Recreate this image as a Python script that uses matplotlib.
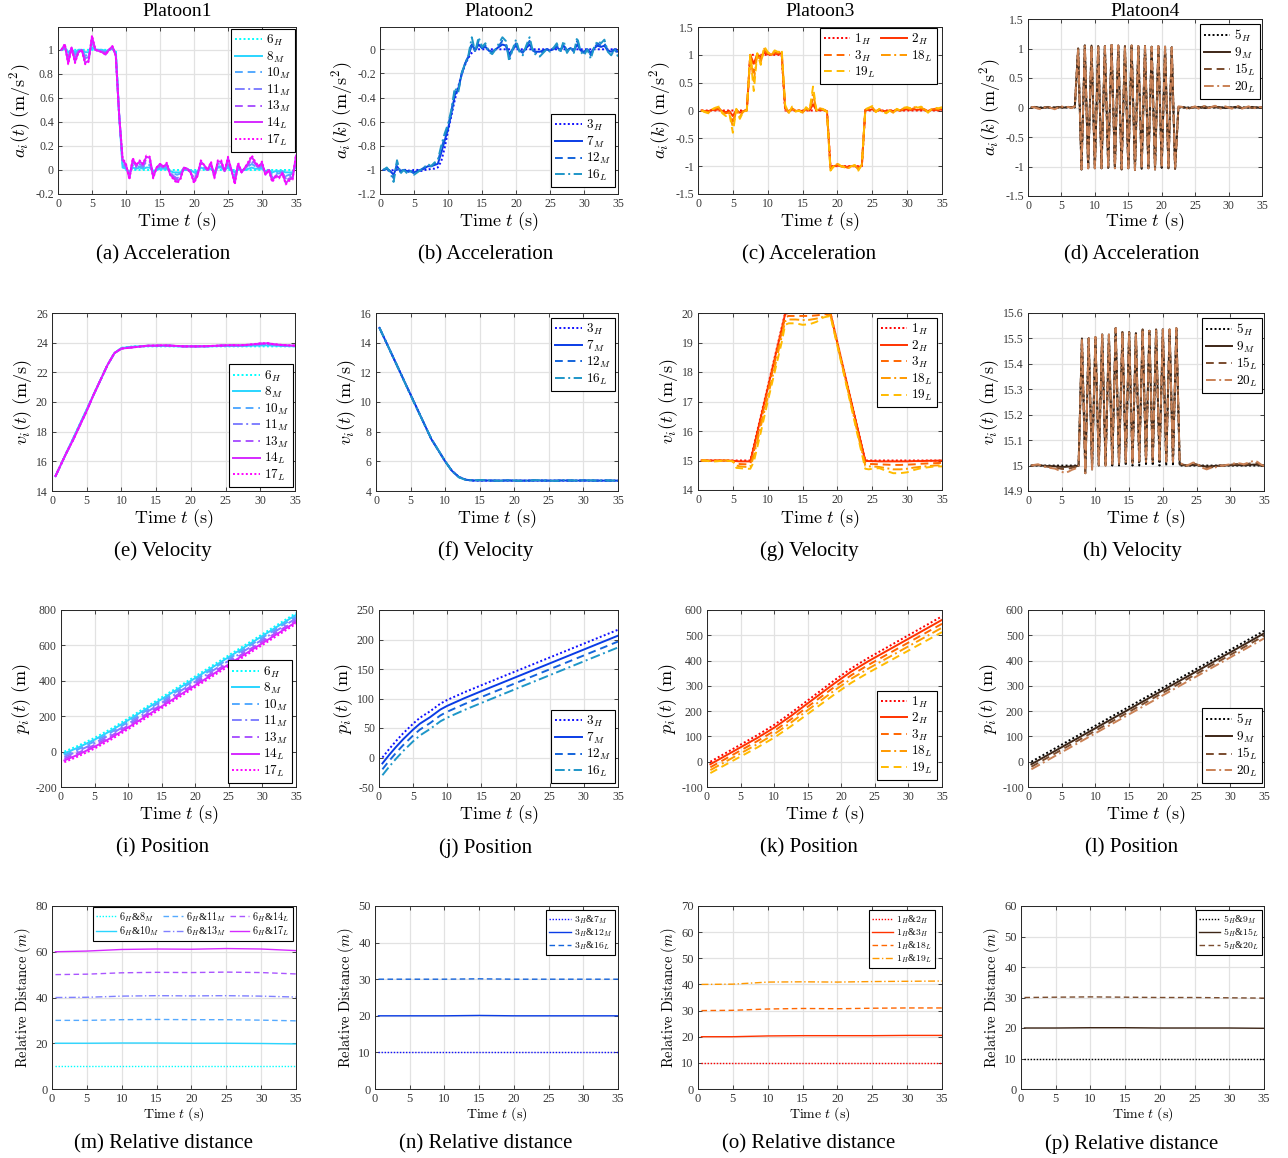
import numpy as np
import matplotlib
matplotlib.use('Agg')
import matplotlib.pyplot as plt
from matplotlib.ticker import FixedLocator, FuncFormatter

plt.rcParams['mathtext.fontset'] = 'cm'
plt.rcParams['font.family'] = ['Liberation Serif', 'DejaVu Serif']
plt.rcParams['axes.unicode_minus'] = False

W, H = 1288, 1158
fig = plt.figure(figsize=(W / 100, H / 100), dpi=100)

# ====================== DATA ======================
t_acc = np.arange(0.5, 35.01, 0.5)          # 0.5 s sampling (70 samples)

# ---- (a) Platoon1 acceleration
a_6H = [1.00] * 17 + [0.45, 0.05] + [0.00] * 51
a_8M = [1.00, 1.01, 0.98, 1.00, 0.98, 1.00, 1.00, 0.98, 0.98, 1.02, 1.00, 1.00, 1.00, 0.99, 1.00, 1.01, 0.98, 0.45, 0.02, 0.01,
        -0.02, 0.02, 0.01, 0.02, 0.01, 0.02, 0.02, -0.01, 0.00, 0.01, 0.01, 0.01, -0.01, -0.02, -0.02, -0.02, 0.00, 0.00, 0.00, -0.02,
        -0.01, 0.02, 0.01, 0.00, 0.01, -0.01, 0.02, 0.02, 0.00, 0.02, 0.00, -0.02, 0.01, 0.00, 0.00, 0.01, 0.02, 0.01, 0.01, 0.01,
        -0.01, 0.00, -0.02, -0.01, -0.01, -0.01, -0.02, -0.02, -0.02, 0.03]
a_10M = [1.00, 1.02, 0.95, 1.01, 0.96, 0.99, 1.00, 0.95, 0.96, 1.05, 1.00, 1.00, 0.99, 0.98, 1.00, 1.01, 0.97, 0.45, 0.04, 0.02,
         -0.03, 0.04, 0.02, 0.03, 0.02, 0.05, 0.04, -0.03, 0.01, 0.02, 0.01, 0.02, -0.02, -0.03, -0.04, -0.03, 0.01, 0.00, -0.01, -0.04,
         -0.02, 0.03, 0.02, 0.00, 0.03, -0.03, 0.03, 0.03, 0.00, 0.04, 0.00, -0.05, 0.02, -0.01, 0.01, 0.03, 0.05, 0.03, 0.01, 0.03,
         -0.02, 0.00, -0.04, -0.02, -0.03, -0.01, -0.05, -0.04, -0.03, 0.05]
a_11M = [1.00, 1.03, 0.93, 1.01, 0.93, 0.99, 1.00, 0.93, 0.94, 1.07, 1.00, 0.99, 0.99, 0.98, 1.00, 1.02, 0.96, 0.45, 0.06, 0.03,
         -0.05, 0.06, 0.02, 0.05, 0.03, 0.07, 0.07, -0.04, 0.01, 0.03, 0.02, 0.04, -0.02, -0.05, -0.07, -0.05, 0.01, 0.01, -0.01, -0.07,
         -0.03, 0.05, 0.02, 0.00, 0.04, -0.04, 0.05, 0.05, -0.01, 0.07, 0.00, -0.07, 0.04, -0.01, 0.01, 0.04, 0.07, 0.04, 0.02, 0.04,
         -0.02, 0.00, -0.06, -0.04, -0.04, -0.02, -0.07, -0.05, -0.05, 0.08]
a_13M = [1.00, 1.04, 0.91, 1.02, 0.92, 0.98, 1.00, 0.91, 0.92, 1.09, 1.00, 0.99, 0.98, 0.97, 1.00, 1.02, 0.96, 0.45, 0.08, 0.04,
         -0.06, 0.08, 0.03, 0.06, 0.04, 0.09, 0.08, -0.05, 0.02, 0.04, 0.02, 0.05, -0.03, -0.06, -0.08, -0.06, 0.02, 0.01, -0.02, -0.08,
         -0.04, 0.06, 0.03, 0.00, 0.05, -0.05, 0.06, 0.06, -0.01, 0.08, 0.00, -0.09, 0.05, -0.02, 0.02, 0.05, 0.09, 0.05, 0.02, 0.05,
         -0.03, 0.00, -0.08, -0.05, -0.05, -0.02, -0.09, -0.07, -0.06, 0.10]
a_14L = [1.00, 1.04, 0.89, 1.02, 0.90, 0.98, 1.00, 0.89, 0.91, 1.11, 1.00, 0.99, 0.98, 0.96, 1.00, 1.03, 0.95, 0.45, 0.09, 0.04,
         -0.07, 0.09, 0.04, 0.07, 0.05, 0.11, 0.10, -0.06, 0.02, 0.05, 0.03, 0.05, -0.04, -0.07, -0.10, -0.07, 0.02, 0.01, -0.02, -0.10,
         -0.05, 0.07, 0.04, 0.00, 0.06, -0.06, 0.07, 0.07, -0.01, 0.10, 0.00, -0.11, 0.05, -0.02, 0.02, 0.06, 0.11, 0.06, 0.03, 0.06,
         -0.04, 0.00, -0.09, -0.05, -0.06, -0.03, -0.11, -0.08, -0.07, 0.12]
a_17L = [1.00, 1.05, 0.88, 1.02, 0.89, 0.98, 1.00, 0.88, 0.90, 1.12, 1.00, 0.99, 0.98, 0.96, 1.00, 1.03, 0.95, 0.45, 0.10, 0.05,
         -0.08, 0.10, 0.04, 0.08, 0.05, 0.12, 0.11, -0.07, 0.02, 0.05, 0.03, 0.06, -0.04, -0.08, -0.11, -0.08, 0.02, 0.01, -0.02, -0.11,
         -0.05, 0.08, 0.04, 0.00, 0.07, -0.07, 0.08, 0.08, -0.01, 0.11, 0.00, -0.12, 0.06, -0.02, 0.02, 0.07, 0.12, 0.07, 0.03, 0.07,
         -0.04, 0.00, -0.10, -0.06, -0.07, -0.03, -0.12, -0.09, -0.08, 0.13]

# ---- (b) Platoon2 acceleration
b_3H = [-1.00, -1.00, -1.01, -1.00, -1.00, -1.01, -1.00, -1.00, -1.01, -1.00, -1.00, -1.01, -1.00, -1.00, -0.99, -0.99,
        -0.98, -0.93, -0.82, -0.68, -0.55, -0.42, -0.31, -0.21, -0.13, -0.07, -0.03, -0.01] + [0.00] * 42
b_7M = [-1.00, -0.99, -1.01, -1.04, -0.97, -1.01, -1.00, -1.01, -1.01, -1.02, -1.01, -1.00, -0.99, -0.97, -0.97, -0.96, -0.95, -0.86, -0.76, -0.66,
        -0.53, -0.38, -0.33, -0.21, -0.12, -0.06, 0.04, -0.01, 0.04, 0.01, 0.02, -0.01, -0.02, 0.00, 0.02, 0.04, 0.03, -0.04, 0.00, 0.03,
        -0.01, -0.02, 0.01, 0.04, -0.01, -0.02, -0.02, -0.01, 0.00, -0.01, 0.00, 0.02, -0.01, 0.03, -0.01, 0.01, -0.01, 0.04, -0.01, -0.02,
        0.00, -0.03, 0.01, 0.03, 0.02, 0.03, -0.01, -0.02, 0.00, -0.02]
b_12M = [-1.00, -0.99, -1.01, -1.07, -0.94, -1.02, -1.00, -1.02, -1.01, -1.03, -1.01, -1.00, -0.98, -0.96, -0.97, -0.95, -0.93, -0.83, -0.73, -0.64,
         -0.51, -0.35, -0.35, -0.20, -0.12, -0.06, 0.06, -0.02, 0.07, 0.01, 0.03, -0.01, -0.03, 0.00, 0.03, 0.07, 0.05, -0.07, 0.00, 0.05,
         -0.01, -0.03, 0.02, 0.07, -0.01, -0.03, -0.04, -0.02, 0.00, -0.01, 0.01, 0.03, -0.02, 0.05, -0.02, 0.01, -0.02, 0.07, -0.01, -0.03,
         0.00, -0.05, 0.01, 0.05, 0.03, 0.05, -0.01, -0.03, 0.00, -0.04]
b_16L = [-1.00, -0.98, -1.02, -1.10, -0.92, -1.03, -1.00, -1.03, -1.01, -1.04, -1.02, -1.00, -0.98, -0.95, -0.97, -0.94, -0.92, -0.80, -0.70, -0.62,
         -0.50, -0.32, -0.36, -0.20, -0.12, -0.05, 0.10, -0.02, 0.10, 0.02, 0.05, -0.02, -0.04, 0.00, 0.05, 0.10, 0.07, -0.10, 0.00, 0.08,
         -0.02, -0.05, 0.03, 0.10, -0.02, -0.05, -0.06, -0.03, 0.00, -0.02, 0.01, 0.05, -0.03, 0.07, -0.03, 0.02, -0.03, 0.10, -0.02, -0.05,
         0.00, -0.08, 0.02, 0.07, 0.05, 0.08, -0.02, -0.05, 0.00, -0.06]

# ---- (c) Platoon3 acceleration
c_1H = [0.0] * 14 + [1.0] * 10 + [0.0] * 13 + [-1.0] * 10 + [0.0] * 23
c_2H = [0.00, -0.01, -0.01, 0.01, 0.01, 0.02, -0.01, -0.03, -0.01, -0.10, 0.01, -0.04, -0.01, 0.00, 1.00, 0.84, 1.01, 0.96, 1.04, 1.01,
        1.00, 1.02, 1.01, 1.03, 0.03, -0.01, 0.02, -0.01, 0.00, -0.01, 0.02, 0.00, 0.11, 0.00, 0.01, 0.01, -0.01, -1.02, -1.00, -0.99,
        -1.00, -1.01, -1.01, -1.00, -1.00, -1.02, -0.99, 0.01, 0.01, 0.02, -0.01, 0.01, -0.01, -0.01, 0.00, -0.01, 0.01, 0.00, 0.01, 0.02,
        0.01, 0.02, 0.01, 0.02, 0.01, -0.01, 0.01, 0.01, 0.01, 0.02]
c_3H = [0.00, -0.02, -0.03, 0.01, 0.03, 0.04, -0.03, -0.05, -0.03, -0.20, 0.02, -0.08, -0.01, 0.00, 1.00, 0.68, 1.02, 0.91, 1.08, 1.03,
        1.00, 1.04, 1.03, 1.05, 0.05, -0.03, 0.04, -0.01, 0.00, -0.03, 0.03, 0.00, 0.22, 0.00, 0.03, 0.01, -0.02, -1.04, -1.00, -0.98,
        -1.00, -1.01, -1.03, -1.00, -0.99, -1.04, -0.99, 0.01, 0.03, 0.04, -0.02, 0.02, -0.01, -0.03, 0.00, -0.03, 0.02, 0.00, 0.03, 0.03,
        0.02, 0.04, 0.03, 0.04, 0.02, -0.02, 0.02, 0.03, 0.02, 0.03]
c_18L = [0.00, -0.02, -0.04, 0.02, 0.04, 0.05, -0.04, -0.08, -0.04, -0.30, 0.02, -0.11, -0.02, 0.00, 1.00, 0.51, 1.02, 0.87, 1.11, 1.04,
         1.00, 1.06, 1.04, 1.08, 0.08, -0.04, 0.05, -0.02, 0.00, -0.04, 0.05, 0.00, 0.32, 0.00, 0.04, 0.02, -0.02, -1.06, -1.00, -0.96,
         -1.00, -1.02, -1.04, -1.00, -0.99, -1.06, -0.98, 0.02, 0.04, 0.06, -0.02, 0.02, -0.02, -0.04, 0.00, -0.04, 0.02, 0.00, 0.04, 0.05,
         0.03, 0.06, 0.04, 0.05, 0.02, -0.03, 0.02, 0.04, 0.03, 0.05]
c_19L = [0.00, -0.03, -0.05, 0.02, 0.05, 0.07, -0.05, -0.10, -0.05, -0.40, 0.03, -0.15, -0.02, 0.00, 1.00, 0.35, 1.03, 0.82, 1.15, 1.05,
         1.00, 1.08, 1.05, 1.10, 0.10, -0.05, 0.07, -0.02, 0.00, -0.05, 0.06, 0.00, 0.43, 0.00, 0.05, 0.02, -0.03, -1.08, -1.00, -0.95,
         -1.00, -1.02, -1.05, -1.00, -0.98, -1.08, -0.97, 0.02, 0.05, 0.08, -0.03, 0.03, -0.02, -0.05, 0.00, -0.05, 0.03, 0.00, 0.05, 0.06,
         0.04, 0.08, 0.05, 0.07, 0.03, -0.04, 0.03, 0.05, 0.04, 0.06]

# ---- (d) Platoon4 acceleration (oscillation 7.5 s .. 22 s is common to all)
d_osc = [1.00, -1.05, 1.05, -1.03, 1.05, -1.03, 1.04, -1.03, 1.04, -1.02, 1.06, -1.03, 1.05, -1.05, 1.04,
         -1.03, 1.05, -1.06, 1.04, -1.04, 1.04, -1.03, 1.03, -1.05, 1.04, -1.02, 1.03, -1.03, 1.02, -1.04]
d_5H_pre = [0.00] * 14
d_5H_post = [0.00] * 26
d_9M_pre = [0.00, 0.01, 0.00, -0.01, 0.00, 0.00, -0.01, 0.00, 0.01, 0.00, 0.00, 0.01, 0.00, 0.01]
d_9M_post = [0.00, 0.01, 0.00, -0.01, 0.00, 0.00, 0.01, 0.00, -0.01, 0.00, 0.01, 0.00, 0.01, 0.00, -0.01, 0.00,
             0.00, 0.01, 0.00, -0.01, 0.00, 0.00, 0.01, 0.00, 0.00, 0.00]
d_15L_pre = [0.00, 0.01, -0.01, -0.02, 0.00, 0.01, -0.01, -0.02, 0.00, 0.01, 0.00, 0.01, 0.00, 0.02]
d_15L_post = [0.01, 0.01, -0.01, -0.02, 0.00, 0.01, -0.01, 0.01, 0.02, -0.01, 0.01, 0.02, 0.00, -0.01, 0.01, 0.00,
              -0.01, 0.01, 0.02, -0.01, 0.00, 0.01, -0.01, 0.00, 0.01, 0.00]
d_20L_pre = [0.01, 0.00, -0.02, -0.03, 0.00, 0.01, -0.01, -0.03, 0.00, 0.02, 0.00, 0.01, -0.01, 0.02]
d_20L_post = [0.02, 0.01, -0.02, -0.01, 0.00, 0.02, -0.02, 0.01, 0.03, -0.01, 0.01, 0.03, -0.01, -0.02, 0.02, 0.00,
              -0.02, 0.01, 0.02, -0.02, 0.00, 0.02, -0.01, -0.01, 0.01, 0.00]

# ---- (e), (f) velocity, 1 s sampling
t_vel = [0.5] + list(range(1, 36))
e_6H = [15.0, 15.5, 16.5, 17.5, 18.5, 19.5, 20.5, 21.5, 22.5, 23.3, 23.65, 23.72] + [23.75] * 24
e_8M = [15.0, 15.5, 16.5, 17.5, 18.5, 19.5, 20.5, 21.5, 22.5, 23.3, 23.63, 23.70, 23.74, 23.76, 23.77, 23.77, 23.78, 23.77,
        23.76, 23.75, 23.75, 23.75, 23.75, 23.76, 23.77, 23.78, 23.78, 23.78, 23.79, 23.80, 23.81, 23.82, 23.80, 23.78, 23.77, 23.76]
e_10M = [15.0, 15.5, 16.5, 17.45, 18.45, 19.45, 20.5, 21.5, 22.5, 23.3, 23.62, 23.68, 23.73, 23.77, 23.79, 23.79, 23.80, 23.79,
         23.77, 23.75, 23.75, 23.75, 23.75, 23.77, 23.78, 23.80, 23.80, 23.80, 23.82, 23.84, 23.86, 23.88, 23.84, 23.81, 23.79, 23.78]
e_11M = [15.0, 15.5, 16.5, 17.45, 18.45, 19.45, 20.5, 21.5, 22.5, 23.3, 23.61, 23.67, 23.72, 23.77, 23.80, 23.80, 23.81, 23.80,
         23.77, 23.75, 23.75, 23.75, 23.75, 23.77, 23.79, 23.81, 23.81, 23.81, 23.83, 23.87, 23.90, 23.92, 23.87, 23.83, 23.80, 23.79]
e_13M = [15.0, 15.5, 16.5, 17.4, 18.4, 19.4, 20.5, 21.5, 22.5, 23.3, 23.60, 23.66, 23.71, 23.76, 23.80, 23.80, 23.82, 23.80,
         23.78, 23.75, 23.75, 23.75, 23.76, 23.78, 23.80, 23.82, 23.82, 23.82, 23.84, 23.88, 23.93, 23.95, 23.88, 23.84, 23.81, 23.80]
e_14L = [15.0, 15.5, 16.5, 17.4, 18.4, 19.4, 20.5, 21.5, 22.5, 23.3, 23.60, 23.65, 23.70, 23.75, 23.80, 23.80, 23.82, 23.80,
         23.78, 23.75, 23.75, 23.75, 23.76, 23.78, 23.80, 23.82, 23.83, 23.82, 23.85, 23.89, 23.94, 23.96, 23.89, 23.85, 23.82, 23.80]
e_17L = [15.0, 15.5, 16.5, 17.4, 18.4, 19.4, 20.5, 21.5, 22.5, 23.3, 23.60, 23.65, 23.70, 23.75, 23.80, 23.80, 23.82, 23.80,
         23.78, 23.75, 23.75, 23.75, 23.76, 23.78, 23.80, 23.82, 23.83, 23.82, 23.85, 23.90, 23.95, 23.97, 23.90, 23.85, 23.82, 23.80]

f_3H = [15.0, 14.5, 13.5, 12.5, 11.5, 10.5, 9.5, 8.5, 7.5, 6.75, 6.0, 5.35, 4.95, 4.76, 4.70] + [4.70] * 21
f_7M = [15.0, 14.5, 13.5, 12.5, 11.5, 10.5, 9.5, 8.5, 7.5, 6.75, 6.0, 5.35, 4.94, 4.76, 4.71,
        4.71, 4.71, 4.70, 4.70, 4.71, 4.70, 4.70, 4.70, 4.71, 4.70, 4.70, 4.70, 4.71, 4.70, 4.70, 4.71, 4.70, 4.70, 4.70, 4.70, 4.70]
f_12M = [15.0, 14.5, 13.5, 12.5, 11.49, 10.48, 9.48, 8.5, 7.51, 6.76, 6.0, 5.34, 4.93, 4.75, 4.72,
         4.73, 4.72, 4.70, 4.70, 4.72, 4.70, 4.69, 4.70, 4.72, 4.71, 4.70, 4.69, 4.72, 4.71, 4.70, 4.72, 4.71, 4.70, 4.71, 4.70, 4.69]
f_16L = [15.0, 14.5, 13.5, 12.5, 11.47, 10.46, 9.46, 8.5, 7.52, 6.77, 6.01, 5.33, 4.92, 4.74, 4.72,
         4.74, 4.73, 4.70, 4.69, 4.73, 4.71, 4.68, 4.70, 4.73, 4.72, 4.70, 4.68, 4.73, 4.72, 4.70, 4.73, 4.72, 4.70, 4.72, 4.71, 4.69]

# ---- (g) Platoon3 velocity
t_g = [0.5, 1, 2, 3, 4, 5, 5.5, 6, 7, 7.5, 8, 9, 10, 11, 12, 12.5, 13, 14, 15, 16, 17, 18, 19,
       20, 21, 22, 23, 24, 24.5, 25, 26, 27, 28, 29, 30, 31, 32, 33, 34, 35]
g_1H = [15, 15, 15, 15, 15, 15, 15, 15, 15, 15, 15.5, 16.5, 17.5, 18.5, 19.5, 20, 20, 20, 20, 20, 20, 20, 20,
        19, 18, 17, 16, 15, 15, 15, 15, 15, 15, 15, 15, 15, 15, 15, 15, 15]
g_2H = [15, 15, 15, 15, 15, 14.99, 14.98, 14.97, 14.97, 14.97, 15.45, 16.45, 17.45, 18.45, 19.45, 19.97, 20, 20, 20, 20, 20, 20, 20,
        18.98, 17.98, 16.98, 15.98, 14.99, 14.98, 14.98, 14.97, 14.97, 14.97, 14.97, 14.97, 14.98, 14.98, 14.99, 14.99, 15.0]
g_3H = [15, 15, 14.99, 15, 15, 14.98, 14.9, 14.88, 14.87, 14.88, 15.3, 16.3, 17.35, 18.35, 19.35, 19.85, 19.9, 19.9, 19.9, 19.9, 19.92, 19.95, 19.97,
        18.95, 17.93, 16.9, 15.88, 14.9, 14.88, 14.88, 14.87, 14.86, 14.85, 14.85, 14.86, 14.87, 14.89, 14.9, 14.91, 14.92]
g_18L = [15, 15, 14.98, 14.99, 15, 14.97, 14.83, 14.8, 14.78, 14.79, 15.15, 16.15, 17.15, 18.15, 19.2, 19.72, 19.78, 19.78, 19.76, 19.77, 19.81, 19.87, 19.93,
         18.92, 17.9, 16.86, 15.82, 14.82, 14.8, 14.8, 14.78, 14.74, 14.7, 14.7, 14.72, 14.76, 14.79, 14.81, 14.83, 14.84]
g_19L = [15, 15, 14.96, 14.98, 15, 14.97, 14.75, 14.74, 14.72, 14.72, 14.95, 15.95, 17.0, 18.0, 19.0, 19.6, 19.65, 19.65, 19.6, 19.62, 19.7, 19.85, 19.9,
         18.88, 17.85, 16.8, 15.75, 14.72, 14.7, 14.72, 14.74, 14.65, 14.57, 14.57, 14.6, 14.68, 14.74, 14.77, 14.8, 14.8]

# ---- (h) Platoon4 velocity (0.5 s sampling)
h_osc_5H = [15.500, 15.000, 15.500, 14.995, 15.505, 15.000, 15.515, 15.000, 15.515, 15.000, 15.540, 15.000, 15.525, 15.000, 15.525,
            15.000, 15.520, 15.000, 15.535, 15.000, 15.530, 15.000, 15.535, 15.000, 15.535, 15.000, 15.535, 15.000, 15.540]
h_osc_F = [15.500, 14.970, 15.500, 14.985, 15.505, 15.000, 15.515, 15.000, 15.515, 15.005, 15.540, 15.005, 15.525, 15.010, 15.525,
           15.010, 15.520, 15.015, 15.535, 15.015, 15.530, 15.015, 15.535, 15.015, 15.535, 15.015, 15.535, 15.015, 15.540]
h_5H_pre = [15.000] * 15
h_5H_post = [15.000] * 26
h_9M_pre = [15.000, 15.001, 15.001, 15.000, 14.999, 14.998, 14.998, 14.997, 14.996, 14.995, 14.995, 14.996, 14.997, 14.998, 14.999]
h_9M_post = [15.004, 15.002, 15.000, 15.001, 15.003, 15.002, 15.000, 14.998, 14.996, 14.997, 14.998, 14.999, 15.000,
             15.000, 15.001, 15.001, 15.002, 15.002, 15.002, 15.001, 15.002, 15.003, 15.004, 15.003, 15.001, 15.000]
h_15L_pre = [15.000, 15.002, 15.003, 15.000, 14.997, 14.995, 14.994, 14.993, 14.990, 14.987, 14.986, 14.988, 14.991, 14.994, 14.997]
h_15L_post = [15.008, 15.004, 15.000, 15.003, 15.008, 15.005, 14.999, 14.994, 14.991, 14.993, 14.994, 14.997, 15.000,
              15.000, 15.002, 15.003, 15.005, 15.006, 15.005, 15.003, 15.006, 15.009, 15.011, 15.009, 15.003, 14.999]
h_20L_pre = [15.000, 15.003, 15.005, 15.000, 14.995, 14.992, 14.990, 14.988, 14.982, 14.975, 14.972, 14.976, 14.983, 14.988, 14.995]
h_20L_post = [15.010, 15.005, 15.000, 15.005, 15.012, 15.008, 14.998, 14.990, 14.985, 14.990, 14.990, 14.995, 15.000,
              15.000, 15.003, 15.005, 15.008, 15.010, 15.008, 15.005, 15.010, 15.015, 15.018, 15.015, 15.005, 14.998]

# ---- (i)-(l) positions
t_p1 = [0.5, 2.5, 5, 7.5, 10, 12.5, 15, 17.5, 20, 22.5, 25, 27.5, 30, 32.5, 35]
i_6H = [0, 32, 77.6, 129.5, 187.5, 247, 306.5, 366, 425.5, 485, 544.5, 604, 663.5, 723, 782.5]
i_8M = [-10, 22, 67.6, 119.5, 177.5, 237, 296.5, 356, 415.5, 475, 534.5, 594, 653.5, 713, 772.5]
i_10M = [-20, 12, 57.6, 109.5, 167.4, 226.9, 286.4, 345.9, 405.4, 464.9, 524.4, 583.9, 643.5, 703, 762.7]
i_11M = [-30, 2, 47.5, 99.3, 157.1, 216.6, 276.1, 335.6, 395.2, 454.7, 514.2, 573.7, 633.3, 692.9, 752.6]
i_13M = [-40, -8, 37.5, 89.2, 146.8, 206.3, 265.7, 325.2, 384.8, 444.3, 503.7, 563.2, 622.8, 682.4, 742.3]
i_14L = [-50, -18, 27.4, 78.9, 136.6, 196.1, 255.5, 315.0, 374.6, 434.0, 493.5, 553.0, 612.6, 672.2, 732.2]
i_17L = [-60, -28.1, 17.3, 68.8, 126.5, 185.9, 245.3, 304.8, 364.4, 423.8, 483.1, 542.7, 602.3, 661.9, 722.0]

t_p2 = [0.5, 1.5, 2.5, 3.5, 5, 6, 7.5, 9, 10, 12.5, 15, 20, 25, 30, 35]
j_3H = [0, 14.5, 28, 40.5, 57.4, 67.4, 78.5, 91.4, 97.6, 110.5, 122.5, 146, 169.5, 193, 216.5]
j_7M = [-10, 4.5, 18, 30.5, 47.4, 57.4, 68.5, 81.4, 87.6, 100.5, 112.5, 136, 159.5, 183, 206.5]
j_12M = [-20, -5.5, 8, 20.5, 37.4, 47.4, 58.5, 71.4, 77.6, 90.5, 102.5, 126, 149.5, 173, 196.5]
j_16L = [-30, -15.5, -2, 10.5, 27.4, 37.4, 48.5, 61.4, 67.6, 80.5, 92.5, 116, 139.5, 163, 186.5]

t_p3 = [0.5, 2.5, 5, 7.5, 10, 12.5, 15, 17.5, 19, 21.5, 24, 27.5, 30, 32.5, 35]
k_1H = [0, 30, 67.5, 105, 145.6, 192.5, 242.5, 292.5, 322.5, 369.4, 410, 462.5, 500, 537.5, 575]
k_2H = [-10, 19.8, 57, 94.2, 134.5, 181, 230.8, 280.4, 310.2, 356.8, 397, 449, 486.3, 523.5, 561]
k_3H = [-22, 7.6, 44.6, 81.6, 121.5, 167.8, 217.3, 266.6, 296.1, 342.4, 382.3, 434.1, 471.2, 508.3, 545.5]
k_18L = [-33, -3.6, 33, 69.5, 108.8, 154.7, 203.8, 252.8, 282.1, 328.2, 367.9, 419.4, 456.3, 493.2, 530]
k_19L = [-45, -15.6, 20.5, 56.5, 95, 140.2, 188.8, 237.5, 266.5, 312.3, 351.6, 402.8, 439.5, 476.2, 512.5]

t_p4 = [0.5, 10, 20, 30, 35]
l_5H = [0, 142.5, 292.5, 442.5, 517.5]
l_9M = [-10, 132.5, 282.5, 432.5, 507.5]
l_15L = [-20, 122.5, 272.5, 422.5, 497.5]
l_20L = [-30, 112.5, 262.5, 412.5, 487.5]

# ---- (m)-(p) relative distance
t_rel = [0.5, 5, 10, 15, 20, 25, 30, 35]
m_8M = [10, 10, 10, 10, 10, 10, 10, 10]
m_10M = [20, 20, 20.1, 20.1, 20, 20, 19.9, 19.7]
m_11M = [30, 30, 30.3, 30.4, 30.3, 30.3, 30.1, 29.8]
m_13M = [40, 40.1, 40.6, 40.8, 40.7, 40.8, 40.6, 40.2]
m_14L = [50, 50.2, 50.8, 51.0, 50.9, 51.1, 50.9, 50.3]
m_17L = [60, 60.3, 61.0, 61.2, 61.1, 61.4, 61.2, 60.5]
n_7M = [10, 10, 10, 10, 10, 10, 10, 10]
n_12M = [20, 20, 20, 20.1, 20, 20, 20, 20]
n_16L = [30, 30, 30, 30.1, 30, 30, 30, 30]
o_2H = [10, 10, 10, 10, 10, 10, 10, 10]
o_3H = [20, 20, 20.3, 20.4, 20.4, 20.4, 20.5, 20.5]
o_18L = [30, 30.1, 30.6, 30.8, 30.7, 30.9, 31.0, 31.0]
o_19L = [40, 40.1, 40.9, 41.0, 40.9, 41.1, 41.2, 41.3]
p_9M = [10, 10, 10, 10, 10, 10, 10, 10]
p_15L = [20, 20, 20.1, 20.1, 20, 20, 20, 19.9]
p_20L = [30, 30.1, 30.2, 30.1, 30, 30, 29.9, 29.8]

# ====================== STYLE ======================
COOL = ['#00FFFF', '#2AD5FF', '#55AAFF', '#8080FF', '#AA55FF', '#D52AFF', '#FF00FF']
BLUE = ['#1010FF', '#0A3CE6', '#1464DC', '#1E96C8']
AUT = ['#FF0000', '#FF3300', '#FF6600', '#FF9900', '#FFBB00']
COP = ['#000000', '#3D2617', '#7A4C2E', '#C98155']
DOT = (0, (1, 1.2))
DASH = (0, (4, 2.5))
DDOT = (0, (5, 1.8, 1, 1.8))
SOL = '-'

lab1 = [r'$6_H$', r'$8_M$', r'$10_M$', r'$11_M$', r'$13_M$', r'$14_L$', r'$17_L$']
lab2 = [r'$3_H$', r'$7_M$', r'$12_M$', r'$16_L$']
lab3 = [r'$1_H$', r'$2_H$', r'$3_H$', r'$18_L$', r'$19_L$']
lab4 = [r'$5_H$', r'$9_M$', r'$15_L$', r'$20_L$']
sty1 = [DOT, SOL, DASH, DDOT, DASH, SOL, DOT]
sty2 = [DOT, SOL, DASH, DDOT]
sty3 = [DOT, SOL, DASH, DDOT, DASH]
sty4 = [DOT, SOL, DASH, DDOT]

XL = r'$\mathrm{Time}\ t\ \mathrm{(s)}$'


def frame(box):
    l, t, r, b = box
    return fig.add_axes([l / W, 1 - b / H, (r - l) / W, (b - t) / H])


fmt = FuncFormatter(lambda v, p: f'{round(v, 3) + 0.0:g}')


def style_axes(ax, ylim, yticks, tick_fs):
    ax.set_xlim(0, 35)
    ax.xaxis.set_major_locator(FixedLocator([0, 5, 10, 15, 20, 25, 30, 35]))
    ax.set_ylim(*ylim)
    ax.yaxis.set_major_locator(FixedLocator(yticks))
    ax.xaxis.set_major_formatter(fmt)
    ax.yaxis.set_major_formatter(fmt)
    ax.grid(True, color='#E2E2E2', lw=0.9)
    ax.set_axisbelow(True)
    ax.tick_params(direction='in', top=True, right=True, length=3, width=0.6,
                   labelsize=tick_fs, labelcolor='#383838', color='#262626', pad=3)
    for s in ax.spines.values():
        s.set_color('#262626')
        s.set_linewidth(0.7)


def labels(ax, box, ylabel, xl_y, fs_y, fs_x):
    l, t, r, b = box
    ax.set_ylabel(ylabel, fontsize=fs_y, labelpad=1.5)
    ax.set_xlabel(XL, fontsize=fs_x, va='center', ha='center')
    ax.xaxis.set_label_coords(0.5, (b - xl_y) / (b - t))


def draw(ax, t, series, colors, styles, lw):
    hs = []
    for y, c, s in zip(series, colors, styles):
        h, = ax.plot(t, y, color=c, linestyle=s, lw=lw)
        hs.append(h)
    return hs


def leg(ax, hs, labs, corner, loc, fs, ncol=1, hl=2.0, cs=0.8, ls=0.1):
    x, y = corner
    lg = ax.legend(hs, labs, loc=loc, bbox_to_anchor=(x / W, 1 - y / H), bbox_transform=fig.transFigure,
                   fontsize=fs, ncol=ncol, frameon=True, fancybox=False, edgecolor='black', framealpha=1,
                   borderpad=0.3, labelspacing=ls, handlelength=hl, handletextpad=0.3, borderaxespad=0,
                   columnspacing=cs)
    lg.get_frame().set_linewidth(0.8)


def caption(cx, cy, text):
    fig.text(cx / W, 1 - cy / H, text, ha='center', va='center', fontsize=15)


LW = 1.4
LEGFS = 9.5
YFS = 13
XFS = 13

# ---------- Row 1 : acceleration ----------
A = (58, 27, 296, 194)
ax = frame(A)
hs = draw(ax, t_acc, [a_6H, a_8M, a_10M, a_11M, a_13M, a_14L, a_17L], COOL, sty1, LW)
style_axes(ax, (-0.2, 1.19), [-0.2, 0, 0.2, 0.4, 0.6, 0.8, 1.0], 8.5)
labels(ax, A, r'$a_i(t)\ (\mathrm{m/s^2})$', 222, YFS, XFS)
leg(ax, hs, lab1, (295, 29), 'upper right', LEGFS)

B = (380, 27, 618, 194)
ax = frame(B)
hs = draw(ax, t_acc, [b_3H, b_7M, b_12M, b_16L], BLUE, sty2, LW)
style_axes(ax, (-1.2, 0.185), [-1.2, -1.0, -0.8, -0.6, -0.4, -0.2, 0], 8.5)
labels(ax, B, r'$a_i(k)\ (\mathrm{m/s^2})$', 222, YFS, XFS)
leg(ax, hs, lab2, (615, 187), 'lower right', LEGFS)

C = (698, 27, 942, 194)
ax = frame(C)
hs = draw(ax, t_acc, [c_1H, c_2H, c_3H, c_18L, c_19L], AUT, sty3, LW)
style_axes(ax, (-1.5, 1.5), [-1.5, -1, -0.5, 0, 0.5, 1, 1.5], 8.5)
labels(ax, C, r'$a_i(k)\ (\mathrm{m/s^2})$', 222, YFS, XFS)
order = [0, 2, 4, 1, 3]
leg(ax, [hs[i] for i in order], [lab3[i] for i in order], (937, 28), 'upper right', LEGFS, ncol=2, cs=0.4)

D = (1028, 19, 1262, 196)
ax = frame(D)
d_series = [d_5H_pre + d_osc + d_5H_post, d_9M_pre + d_osc + d_9M_post,
            d_15L_pre + d_osc + d_15L_post, d_20L_pre + d_osc + d_20L_post]
hs = draw(ax, t_acc, d_series, COP, sty4, LW)
style_axes(ax, (-1.5, 1.5), [-1.5, -1, -0.5, 0, 0.5, 1, 1.5], 8.5)
labels(ax, D, r'$a_i(k)\ (\mathrm{m/s^2})$', 222, YFS, XFS)
leg(ax, hs, lab4, (1260, 24), 'upper right', LEGFS)

for cx, name in [(177, 'Platoon1'), (499, 'Platoon2'), (820, 'Platoon3'), (1145, 'Platoon4')]:
    fig.text(cx / W, 1 - 11 / H, name, ha='center', va='center', fontsize=14)

# ---------- Row 2 : velocity ----------
E = (52, 313, 295, 491)
ax = frame(E)
hs = draw(ax, t_vel, [e_6H, e_8M, e_10M, e_11M, e_13M, e_14L, e_17L], COOL, sty1, LW)
style_axes(ax, (14, 26), [14, 16, 18, 20, 22, 24, 26], 8.5)
labels(ax, E, r'$v_i(t)\ (\mathrm{m/s})$', 519, YFS, XFS)
leg(ax, hs, lab1, (293, 487), 'lower right', LEGFS)

F = (376, 313, 618, 491)
ax = frame(F)
hs = draw(ax, t_vel, [f_3H, f_7M, f_12M, f_16L], BLUE, sty2, LW)
style_axes(ax, (4, 16), [4, 6, 8, 10, 12, 14, 16], 8.5)
labels(ax, F, r'$v_i(t)\ (\mathrm{m/s})$', 519, YFS, XFS)
leg(ax, hs, lab2, (615, 318), 'upper right', LEGFS)

G = (698, 313, 942, 490)
ax = frame(G)
hs = draw(ax, t_g, [g_1H, g_2H, g_3H, g_18L, g_19L], AUT, sty3, LW)
style_axes(ax, (14, 20), [14, 15, 16, 17, 18, 19, 20], 8.5)
labels(ax, G, r'$v_i(t)\ (\mathrm{m/s})$', 519, YFS, XFS)
leg(ax, hs, lab3, (937, 318), 'upper right', LEGFS)

Hb = (1028, 313, 1264, 491)
ax = frame(Hb)
h_series = [h_5H_pre + h_osc_5H + h_5H_post, h_9M_pre + h_osc_F + h_9M_post,
            h_15L_pre + h_osc_F + h_15L_post, h_20L_pre + h_osc_F + h_20L_post]
hs = draw(ax, t_acc, h_series, COP, sty4, LW)
style_axes(ax, (14.9, 15.6), [14.9, 15.0, 15.1, 15.2, 15.3, 15.4, 15.5, 15.6], 8.5)
labels(ax, Hb, r'$v_i(t)\ (\mathrm{m/s})$', 519, YFS, XFS)
leg(ax, hs, lab4, (1262, 318), 'upper right', LEGFS)

# ---------- Row 3 : position ----------
I = (61, 610, 296, 787)
ax = frame(I)
hs = draw(ax, t_p1, [i_6H, i_8M, i_10M, i_11M, i_13M, i_14L, i_17L], COOL, sty1, LW)
style_axes(ax, (-200, 800), [-200, 0, 200, 400, 600, 800], 8.5)
labels(ax, I, r'$p_i(t)\ (\mathrm{m})$', 815, YFS, XFS)
leg(ax, hs, lab1, (292, 783), 'lower right', LEGFS)

J = (379, 610, 618, 787)
ax = frame(J)
hs = draw(ax, t_p2, [j_3H, j_7M, j_12M, j_16L], BLUE, sty2, LW)
style_axes(ax, (-50, 250), [-50, 0, 50, 100, 150, 200, 250], 8.5)
labels(ax, J, r'$p_i(t)\ (\mathrm{m})$', 815, YFS, XFS)
leg(ax, hs, lab2, (615, 783), 'lower right', LEGFS)

K = (707, 610, 942, 787)
ax = frame(K)
hs = draw(ax, t_p3, [k_1H, k_2H, k_3H, k_18L, k_19L], AUT, sty3, LW)
style_axes(ax, (-100, 600), [-100, 0, 100, 200, 300, 400, 500, 600], 8.5)
labels(ax, K, r'$p_i(t)\ (\mathrm{m})$', 815, YFS, XFS)
leg(ax, hs, lab3, (937, 780), 'lower right', LEGFS)

L = (1028, 610, 1264, 787)
ax = frame(L)
hs = draw(ax, t_p4, [l_5H, l_9M, l_15L, l_20L], COP, sty4, LW)
style_axes(ax, (-100, 600), [-100, 0, 100, 200, 300, 400, 500, 600], 8.5)
labels(ax, L, r'$p_i(t)\ (\mathrm{m})$', 815, YFS, XFS)
leg(ax, hs, lab4, (1262, 783), 'lower right', LEGFS)

# ---------- Row 4 : relative distance ----------
RL = r'$\mathrm{Relative\ Distance}\ (m)$'
LW4 = 1.0
M = (52, 906, 296, 1089)
ax = frame(M)
hs = draw(ax, t_rel, [m_8M, m_10M, m_11M, m_13M, m_14L, m_17L], COOL[:6], [DOT, SOL, DASH, DDOT, DASH, SOL], LW4)
style_axes(ax, (0, 80), [0, 20, 40, 60, 80], 9)
labels(ax, M, RL, 1114, 10.5, 10)
leg(ax, hs, [r'$6_H$&$8_M$', r'$6_H$&$10_M$', r'$6_H$&$11_M$', r'$6_H$&$13_M$', r'$6_H$&$14_L$', r'$6_H$&$17_L$'],
    (293, 907), 'upper right', 7.4, ncol=3, hl=1.9, cs=0.35, ls=0.05)

N = (375, 906, 618, 1089)
ax = frame(N)
hs = draw(ax, t_rel, [n_7M, n_12M, n_16L], BLUE[:3], [DOT, SOL, DASH], LW4)
style_axes(ax, (0, 50), [0, 10, 20, 30, 40, 50], 9)
labels(ax, N, RL, 1114, 10.5, 10)
leg(ax, hs, [r'$3_H$&$7_M$', r'$3_H$&$12_M$', r'$3_H$&$16_L$'], (615, 910), 'upper right', 7, hl=2.2, ls=0.05)

O = (698, 906, 942, 1089)
ax = frame(O)
hs = draw(ax, t_rel, [o_2H, o_3H, o_18L, o_19L], AUT[:4], [DOT, SOL, DASH, DDOT], LW4)
style_axes(ax, (0, 70), [0, 10, 20, 30, 40, 50, 60, 70], 9)
labels(ax, O, RL, 1114, 10.5, 10)
leg(ax, hs, [r'$1_H$&$2_H$', r'$1_H$&$3_H$', r'$1_H$&$18_L$', r'$1_H$&$19_L$'], (935, 910), 'upper right', 7, hl=2.2, ls=0.05)

P = (1021, 906, 1264, 1089)
ax = frame(P)
hs = draw(ax, t_rel, [p_9M, p_15L, p_20L], COP[:3], [DOT, SOL, DASH], LW4)
style_axes(ax, (0, 60), [0, 10, 20, 30, 40, 50, 60], 9)
labels(ax, P, RL, 1114, 10.5, 10)
leg(ax, hs, [r'$5_H$&$9_M$', r'$5_H$&$15_L$', r'$5_H$&$20_L$'], (1262, 910), 'upper right', 7, hl=2.2, ls=0.05)

# ---------- captions ----------
cols = [163, 486, 809, 1132]
rows = [(255, ['(a) Acceleration', '(b) Acceleration', '(c) Acceleration', '(d) Acceleration']),
        (551, ['(e) Velocity', '(f) Velocity', '(g) Velocity', '(h) Velocity']),
        (848, ['(i) Position', '(j) Position', '(k) Position', '(l) Position']),
        (1144, ['(m) Relative distance', '(n) Relative distance', '(o) Relative distance', '(p) Relative distance'])]
for cy, texts in rows:
    for cx, tx in zip(cols, texts):
        caption(cx, cy, tx)

fig.savefig('out.png', dpi=100)
